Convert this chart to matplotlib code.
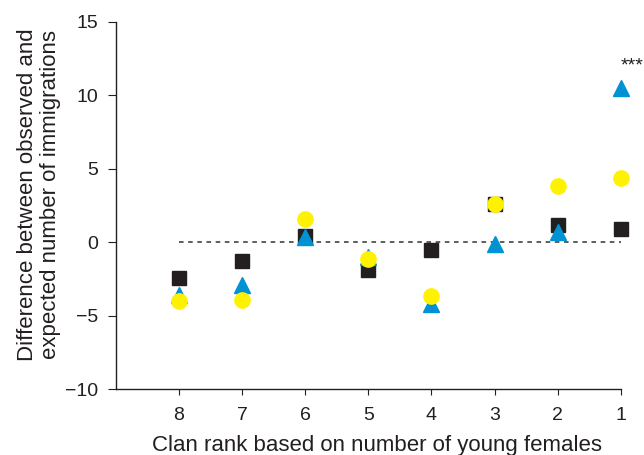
import matplotlib
matplotlib.use("Agg")
import matplotlib.pyplot as plt

plt.rcParams["font.family"] = ["Liberation Sans", "DejaVu Sans"]

ranks = [8, 7, 6, 5, 4, 3, 2, 1]
squares = [-2.45, -1.3, 0.4, -1.9, -0.55, 2.6, 1.15, 0.9]
triangles = [-3.6, -2.9, 0.35, -1.0, -4.2, -0.1, 0.7, 10.5]
circles = [-4.0, -3.95, 1.55, -1.15, -3.7, 2.6, 3.8, 4.4]
star_rank = 1
star_y = 12.0

# ranks are drawn right to left, so rank 8 sits at x = 1
xs = [9 - r for r in ranks]

fig = plt.figure(figsize=(6.44, 4.55), dpi=100)
ax = fig.add_axes([0.180, 0.145, 0.784, 0.807])

ax.plot([xs[0], xs[-1]], [0, 0], linestyle=(0, (3, 3)), color="#333333",
        linewidth=1.1, zorder=1)

ax.plot(xs, squares, "s", color="#231f20", markersize=10, clip_on=False, zorder=2)
ax.plot(xs, triangles, "^", color="#0092d2", markersize=11, clip_on=False, zorder=3)
ax.plot(xs, circles, "o", color="#fff200", markersize=11, clip_on=False, zorder=4)

ax.text(9 - star_rank, star_y, "***", fontsize=14, ha="left", va="center",
        clip_on=False, color="#231f20")

ax.set_xlim(0, 8)
ax.set_ylim(-10, 15)
ax.set_xticks(xs)
ax.set_xticklabels([str(r) for r in ranks])
ax.set_yticks([-10, -5, 0, 5, 10, 15])
ax.set_yticklabels(["\u221210", "\u22125", "0", "5", "10", "15"])

for side in ["top", "right"]:
    ax.spines[side].set_visible(False)
for side in ["left", "bottom"]:
    ax.spines[side].set_color("#231f20")
    ax.spines[side].set_linewidth(1.0)

ax.tick_params(axis="y", direction="out", length=6, labelsize=14, pad=7,
               color="#231f20", labelcolor="#231f20")
ax.tick_params(axis="x", direction="out", length=4, labelsize=14, pad=9,
               color="#231f20", labelcolor="#231f20")

ax.set_xlabel("Clan rank based on number of young females", fontsize=16,
              color="#231f20")
ax.set_ylabel("Difference between observed and\nexpected number of immigrations",
              fontsize=16, color="#231f20", linespacing=1.15)
ax.xaxis.set_label_coords(0.517, -0.125)
ax.yaxis.set_label_coords(-0.108, 0.53)

fig.savefig("out.png", dpi=100)
